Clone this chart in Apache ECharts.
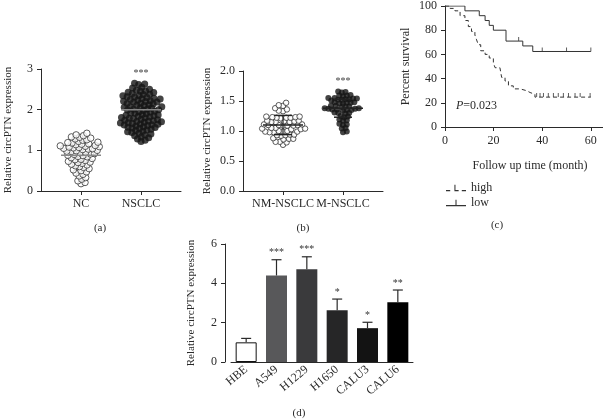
<!DOCTYPE html>
<html>
<head>
<meta charset="utf-8">
<script src="https://cdn.jsdelivr.net/npm/echarts@6/dist/echarts.min.js"></script>
<style>
  html, body { margin: 0; padding: 0; background: #fff; }
  #main { width: 603px; height: 420px; }
</style>
</head>
<body>
<div id="main"></div>
<script>
// ---- data ----
// (a) circPTN in NC vs NSCLC
const ncVals = [1.42, 1.38, 1.36, 1.33, 1.32, 1.30, 1.28, 1.26, 1.25, 1.22, 1.20, 1.19, 1.18, 1.16, 1.15, 1.14,
  1.12, 1.11, 1.10, 1.09, 1.08, 1.07, 1.06, 1.05, 1.04, 1.03, 1.02, 1.00, 0.99, 0.98, 0.97, 0.95, 0.94, 0.92,
  0.91, 0.90, 0.88, 0.87, 0.85, 0.84, 0.82, 0.80, 0.78, 0.77, 0.75, 0.73, 0.71, 0.70, 0.68, 0.66, 0.64, 0.62,
  0.60, 0.58, 0.55, 0.52, 0.50, 0.47, 0.44, 0.41, 0.37, 0.33, 0.29, 0.25, 0.21, 0.18]
const nsclcVals = [2.65, 2.63, 2.62, 2.55, 2.53, 2.50, 2.48, 2.46, 2.45, 2.43, 2.42, 2.40, 2.38, 2.37, 2.35, 2.34,
  2.32, 2.31, 2.30, 2.28, 2.27, 2.26, 2.25, 2.24, 2.22, 2.21, 2.20, 2.19, 2.18, 2.16, 2.15, 2.14, 2.12, 2.11,
  2.10, 2.08, 2.07, 2.06, 2.05, 2.04, 2.02, 2.01, 2.00, 1.99, 1.98, 1.96, 1.95, 1.94, 1.92, 1.91, 1.90, 1.88,
  1.87, 1.86, 1.85, 1.84, 1.82, 1.81, 1.80, 1.79, 1.78, 1.76, 1.75, 1.74, 1.73, 1.72, 1.71, 1.70, 1.69, 1.68,
  1.67, 1.66, 1.65, 1.64, 1.63, 1.62, 1.61, 1.60, 1.58, 1.57, 1.56, 1.55, 1.54, 1.52, 1.50, 1.49, 1.47, 1.46,
  1.44, 1.42, 1.40, 1.38, 1.36, 1.33, 1.31, 1.28, 1.25, 1.22]
const groupsA = ['NC', 'NSCLC']
const meansA = [0.88, 2.0]
const sigA = ['', '***']

// (b) circPTN in NM-NSCLC vs M-NSCLC
const nmVals = [1.47, 1.43, 1.42, 1.38, 1.36, 1.34, 1.33,
  1.24, 1.23, 1.22, 1.22, 1.21, 1.22, 1.23, 1.24,
  1.17, 1.16, 1.15, 1.15, 1.15, 1.16, 1.17,
  1.11, 1.10, 1.09, 1.09, 1.10, 1.11, 1.10, 1.09,
  1.05, 1.04, 1.03, 1.04, 1.05, 1.03,
  1.00, 0.99, 0.98, 0.98, 0.99, 1.00, 0.99,
  0.94, 0.93, 0.92, 0.93, 0.94,
  0.88, 0.87, 0.86, 0.87, 0.82, 0.81, 0.82, 0.77]
const mVals = [1.66, 1.65, 1.64, 1.60, 1.59, 1.58, 1.59,
  1.55, 1.54, 1.53, 1.52, 1.52, 1.53, 1.54, 1.55, 1.51,
  1.48, 1.47, 1.46, 1.46, 1.47, 1.48,
  1.42, 1.41, 1.40, 1.41, 1.42,
  1.38, 1.37, 1.36, 1.35, 1.35, 1.36, 1.37, 1.38, 1.34,
  1.31, 1.30, 1.29, 1.30, 1.25, 1.24, 1.23,
  1.19, 1.18, 1.17, 1.12, 1.10, 1.11, 1.05, 1.04, 0.99, 0.98]
const groupsB = ['NM-NSCLC', 'M-NSCLC']
const meansB = [1.1, 1.38]
const sdB = [0.16, 0.15]
const sigB = ['', '***']

// (c) Kaplan-Meier survival
const lowTime = [0, 8.2, 14.1, 16.5, 18.2, 19.9, 25.1, 32.0, 36.1, 60]
const lowSurv = [100, 96, 92, 88, 84, 80, 71, 67, 62.4, 62.4]
const highTime = [0, 2.1, 4.1, 6.2, 8.2, 9.6, 10.9, 12.3, 13.0, 13.7, 14.7, 16.5, 18.2, 19.9, 20.6, 22.6, 23.3,
  24.7, 26.1, 28.1, 30.9, 33.6, 35.0, 37.0, 60]
const highSurv = [100, 98, 96, 92, 88, 83, 79, 76, 72, 68, 63, 60, 57, 53, 49, 48, 41, 38, 34, 31.5, 30, 28.5,
  27, 24.7, 24.7]
const lowCensorTime = [30.3, 40, 50, 60]
const lowCensorSurv = [71, 62.4, 62.4, 62.4]
const highCensorTime = [37.7, 39.1, 40.5, 42.5, 44.6, 46.6, 48.7, 50.8, 53.5, 55.6, 59.7]
const highCensorSurv = [24.7, 24.7, 24.7, 24.7, 24.7, 24.7, 24.7, 24.7, 24.7, 24.7, 24.7]
const timeTicks = [0, 20, 40, 60]
const pText = '=0.023'

// (d) cell lines
const cells = ['HBE', 'A549', 'H1229', 'H1650', 'CALU3', 'CALU6']
const cellMeans = [1.0, 4.4, 4.72, 2.63, 1.72, 3.04]
const cellUpper = [1.2, 5.2, 5.35, 3.2, 2.02, 3.66]
const cellSig = ['', '***', '***', '*', '*', '**']
const cellColors = ['#ffffff', '#58585a', '#3a3a3c', '#262627', '#131313', '#000000']

const FONT = 'Liberation Serif'
const INK = '#2a2a2a'

// beeswarm layout: x offsets so circles don't pile on top of each other
function swarm(vals, center, pxY, pxX, d) {
  const order = vals.map((v, i) => i).sort((a, b) => vals[a] - vals[b])
  const placed = []
  const out = []
  let flip = 1
  order.forEach(i => {
    const y = vals[i] * pxY
    const near = placed.filter(p => Math.abs(p.y - y) < d)
    const cands = [0]
    near.forEach(p => {
      const dx = Math.sqrt(d * d - (p.y - y) * (p.y - y))
      cands.push(p.x + dx, p.x - dx)
    })
    cands.sort((a, b) => (Math.abs(a) + (a * flip > 0 ? 0.001 : 0)) - (Math.abs(b) + (b * flip > 0 ? 0.001 : 0)))
    const x = cands.find(c => near.every(p => (p.x - c) * (p.x - c) + (p.y - y) * (p.y - y) >= d * d - 0.01))
    flip = -flip
    placed.push({ x: x, y: y })
    out.push([center + x / pxX, vals[i]])
  })
  return out
}

const axisLineStyle = { lineStyle: { color: INK, width: 1 } }
const axisTickStyle = { length: 4, lineStyle: { color: INK, width: 1 } }
const labelStyle = { color: INK, fontSize: 11, fontFamily: FONT }
const nameStyle = { color: INK, fontSize: 11, fontFamily: FONT }

// mean line (+ optional SD bar) for the scatter panels
function makeSummary(sigs, dark) {
  return function (params, api) {
    const x = api.value(0)
    const m = api.value(1)
    const sd = api.value(2)
    const a = api.coord([x - 1, m])
    const b = api.coord([x + 1, m])
    const children = [{ type: 'line', shape: { x1: a[0], y1: a[1], x2: b[0], y2: b[1] }, style: { stroke: dark ? '#222' : '#888', lineWidth: 1.5 } }]
    if (sd > 0) {
      const t = api.coord([x, m + sd])
      const bt = api.coord([x, m - sd])
      const c1 = api.coord([x - 0.45, m + sd])
      const c2 = api.coord([x + 0.45, m + sd])
      const c3 = api.coord([x - 0.45, m - sd])
      const c4 = api.coord([x + 0.45, m - sd])
      children.push(
        { type: 'line', shape: { x1: t[0], y1: t[1], x2: bt[0], y2: bt[1] }, style: { stroke: '#222', lineWidth: 1.2 } },
        { type: 'line', shape: { x1: c1[0], y1: c1[1], x2: c2[0], y2: c2[1] }, style: { stroke: '#222', lineWidth: 1.5 } },
        { type: 'line', shape: { x1: c3[0], y1: c3[1], x2: c4[0], y2: c4[1] }, style: { stroke: '#222', lineWidth: 1.5 } }
      )
    }
    const top = api.coord([x, api.value(3)])
    children.push({ type: 'text', style: { text: sigs[params.dataIndex], x: top[0], y: top[1] - 10, align: 'center', verticalAlign: 'middle', font: '10px ' + FONT, fill: '#444' } })
    return { type: 'group', children: children }
  }
}

function errRender(params, api) {
  const i = api.value(0)
  const base = api.coord([i, api.value(1)])
  const top = api.coord([i, api.value(2)])
  return {
    type: 'group',
    children: [
      { type: 'line', shape: { x1: base[0], y1: base[1], x2: top[0], y2: top[1] }, style: { stroke: INK, lineWidth: 1.2 } },
      { type: 'line', shape: { x1: top[0] - 5, y1: top[1], x2: top[0] + 5, y2: top[1] }, style: { stroke: INK, lineWidth: 1.2 } },
      { type: 'text', style: { text: cellSig[params.dataIndex], x: top[0], y: top[1] - 7, align: 'center', verticalAlign: 'middle', font: '10px ' + FONT, fill: '#333' } }
    ]
  }
}

const posA = [2, 5]
const posB = [2, 5]

const option = {
  animation: false,
  textStyle: { fontFamily: FONT },
  grid: [
    { left: 41, top: 69, width: 140, height: 122 },
    { left: 243, top: 71, width: 140, height: 120 },
    { left: 445, top: 3, width: 158, height: 124 },
    { left: 231, top: 244, width: 182, height: 118 }
  ],
  xAxis: [
    {
      gridIndex: 0, type: 'value', min: 0, max: 7, splitLine: { show: false },
      axisLine: axisLineStyle,
      axisTick: Object.assign({ customValues: posA }, axisTickStyle),
      axisLabel: Object.assign({ customValues: posA, formatter: v => groupsA[posA.indexOf(v)] || '', margin: 7 }, labelStyle, { fontSize: 12 })
    },
    {
      gridIndex: 1, type: 'value', min: 0, max: 7, splitLine: { show: false },
      axisLine: axisLineStyle,
      axisTick: Object.assign({ customValues: posB }, axisTickStyle),
      axisLabel: Object.assign({ customValues: posB, formatter: v => groupsB[posB.indexOf(v)] || '', margin: 7 }, labelStyle, { fontSize: 12 })
    },
    {
      gridIndex: 2, type: 'value', min: 0, max: 65, splitLine: { show: false },
      axisLine: axisLineStyle,
      axisTick: Object.assign({ customValues: timeTicks }, axisTickStyle),
      axisLabel: Object.assign({ customValues: timeTicks }, labelStyle, { fontSize: 12 }),
      name: 'Follow up time (month)', nameLocation: 'middle', nameGap: 33,
      nameTextStyle: Object.assign({}, nameStyle, { fontSize: 12, padding: [0, 0, 0, 12] })
    },
    {
      gridIndex: 3, type: 'category', data: cells,
      axisLine: axisLineStyle,
      axisTick: Object.assign({ alignWithLabel: true }, axisTickStyle),
      axisLabel: Object.assign({ rotate: 40, margin: 6, interval: 0 }, labelStyle, { fontSize: 12 })
    }
  ],
  yAxis: [
    {
      gridIndex: 0, type: 'value', min: 0, max: 3, interval: 1, splitLine: { show: false },
      axisLine: { show: true, lineStyle: { color: INK } }, axisTick: Object.assign({ show: true }, axisTickStyle), axisLabel: Object.assign({}, labelStyle, { fontSize: 12 }),
      name: 'Relative circPTN expression', nameLocation: 'middle', nameGap: 27, nameTextStyle: nameStyle
    },
    {
      gridIndex: 1, type: 'value', min: 0, max: 2, interval: 0.5, splitLine: { show: false },
      axisLine: { show: true, lineStyle: { color: INK } }, axisTick: Object.assign({ show: true }, axisTickStyle),
      axisLabel: Object.assign({ formatter: v => v.toFixed(1) }, labelStyle, { fontSize: 12 }),
      name: 'Relative circPTN expression', nameLocation: 'middle', nameGap: 30, nameTextStyle: nameStyle
    },
    {
      gridIndex: 2, type: 'value', min: 0, max: 100, interval: 20, splitLine: { show: false },
      axisLine: { show: true, lineStyle: { color: INK } }, axisTick: Object.assign({ show: true }, axisTickStyle), axisLabel: Object.assign({}, labelStyle, { fontSize: 12 }),
      name: 'Percent survival', nameLocation: 'middle', nameGap: 33, nameTextStyle: Object.assign({}, nameStyle, { fontSize: 12 })
    },
    {
      gridIndex: 3, type: 'value', min: 0, max: 6, interval: 2, offset: 6, splitLine: { show: false },
      axisLine: { show: true, lineStyle: { color: INK } }, axisTick: Object.assign({ show: true }, axisTickStyle), axisLabel: Object.assign({}, labelStyle, { fontSize: 12 }),
      name: 'Relative circPTN expression', nameLocation: 'middle', nameGap: 28, nameTextStyle: nameStyle
    }
  ],
  legend: {
    orient: 'vertical', left: 441, top: 177, itemWidth: 20, itemHeight: 8, itemGap: 3,
    textStyle: { color: INK, fontSize: 12, fontFamily: FONT },
    data: [
      { name: 'high', icon: 'path://M0,6H4V7H0Z M8,1H9V6H12V7H8Z M15,6H19V7H15Z' },
      { name: 'low', icon: 'path://M0,6H19V7H0Z M9,1H10V6H9Z' }
    ]
  },
  series: [
    {
      type: 'scatter', xAxisIndex: 0, yAxisIndex: 0, symbolSize: 6.5,
      itemStyle: { color: '#fff', borderColor: '#333', borderWidth: 1 },
      data: swarm(ncVals, posA[0], 122 / 3, 20, 4.2)
    },
    {
      type: 'scatter', xAxisIndex: 0, yAxisIndex: 0, symbolSize: 7,
      itemStyle: { color: '#151515' },
      data: swarm(nsclcVals, posA[1], 122 / 3, 20, 4.3)
    },
    {
      type: 'custom', xAxisIndex: 0, yAxisIndex: 0, z: 5, renderItem: makeSummary(sigA, false),
      data: meansA.map((m, i) => [posA[i], m, 0, Math.max(...(i ? nsclcVals : ncVals))])
    },
    {
      type: 'scatter', xAxisIndex: 1, yAxisIndex: 1, symbolSize: 5.5,
      itemStyle: { color: '#fff', borderColor: '#333', borderWidth: 1 },
      data: swarm(nmVals, posB[0], 60, 20, 4.3)
    },
    {
      type: 'scatter', xAxisIndex: 1, yAxisIndex: 1, symbolSize: 6,
      itemStyle: { color: '#151515' },
      data: swarm(mVals, posB[1], 60, 20, 3.8)
    },
    {
      type: 'custom', xAxisIndex: 1, yAxisIndex: 1, z: 5, renderItem: makeSummary(sigB, true),
      data: meansB.map((m, i) => [posB[i], m, sdB[i], Math.max(...(i ? mVals : nmVals))])
    },
    {
      name: 'high', type: 'line', xAxisIndex: 2, yAxisIndex: 2, step: 'end', symbol: 'none',
      itemStyle: { color: '#333' }, lineStyle: { color: '#333', width: 1, type: [4, 3] },
      data: highTime.map((t, i) => [t, highSurv[i]])
    },
    {
      name: 'low', type: 'line', xAxisIndex: 2, yAxisIndex: 2, step: 'end', symbol: 'none',
      itemStyle: { color: '#333' }, lineStyle: { color: '#333', width: 1 },
      data: lowTime.map((t, i) => [t, lowSurv[i]])
    },
    {
      type: 'scatter', xAxisIndex: 2, yAxisIndex: 2, symbol: 'rect', symbolSize: [1, 4], symbolOffset: [0, -2],
      itemStyle: { color: '#333' },
      data: highCensorTime.map((t, i) => [t, highCensorSurv[i]]).concat(lowCensorTime.map((t, i) => [t, lowCensorSurv[i]]))
    },
    {
      type: 'bar', xAxisIndex: 3, yAxisIndex: 3, barWidth: 21,
      data: cellMeans.map((v, i) => ({ value: v, itemStyle: { color: cellColors[i], borderColor: '#111', borderWidth: i === 0 ? 1 : 0 } }))
    },
    {
      type: 'custom', xAxisIndex: 3, yAxisIndex: 3, z: 5, renderItem: errRender,
      data: cellMeans.map((v, i) => [i, v, cellUpper[i]])
    }
  ],
  graphic: [
    { type: 'text', x: 456, y: 106, style: { text: '{i|P}' + pText, rich: { i: { fontStyle: 'italic', fontSize: 12, fontFamily: FONT } }, font: '12px ' + FONT, fill: INK, verticalAlign: 'middle' } },
    { type: 'text', x: 100, y: 228, style: { text: '(a)', font: '11px ' + FONT, fill: INK, align: 'center', verticalAlign: 'middle' } },
    { type: 'text', x: 303, y: 228, style: { text: '(b)', font: '11px ' + FONT, fill: INK, align: 'center', verticalAlign: 'middle' } },
    { type: 'text', x: 497, y: 225, style: { text: '(c)', font: '11px ' + FONT, fill: INK, align: 'center', verticalAlign: 'middle' } },
    { type: 'text', x: 299, y: 413, style: { text: '(d)', font: '11px ' + FONT, fill: INK, align: 'center', verticalAlign: 'middle' } }
  ]
}

const chart = echarts.init(document.getElementById('main'))
chart.setOption(option)
</script>
</body>
</html>
